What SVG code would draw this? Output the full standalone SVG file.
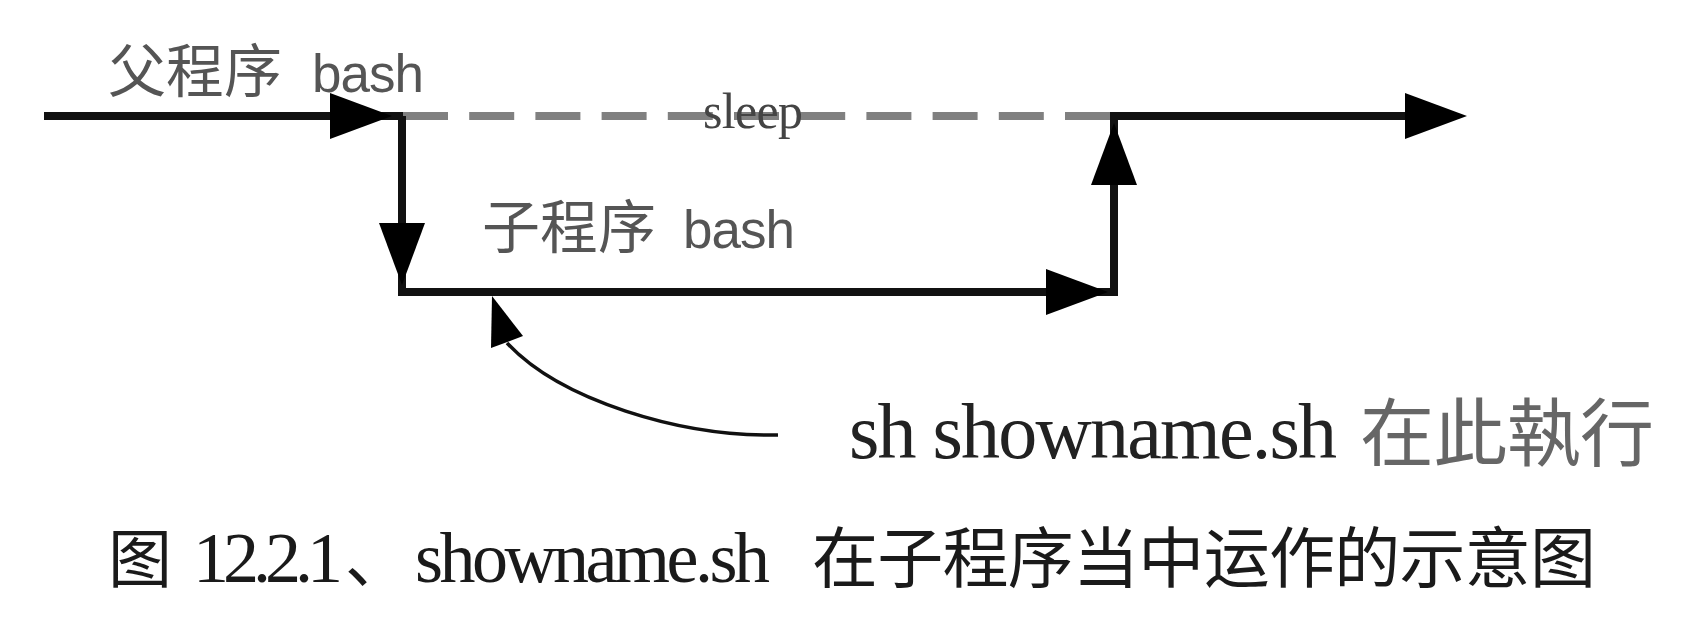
<svg xmlns="http://www.w3.org/2000/svg" xmlns:xlink="http://www.w3.org/1999/xlink" width="1707" height="633" viewBox="0 0 1707 633">
<style>
  .ln { fill: none; stroke: #111; stroke-width: 8; stroke-linecap: butt; }
  .dash { fill: none; stroke: #808080; stroke-width: 8; stroke-dasharray: 45 21.2; }
  .curve { fill: none; stroke: #111; stroke-width: 3.5; }
  .ah { fill: #000; }
  .sans { font-family: "Liberation Sans", "Noto Sans CJK SC", sans-serif; fill: #555; }
  .cjk { font-family: "Noto Sans CJK TC", "Noto Sans CJK SC", sans-serif; }
  .serif { font-family: "Liberation Serif", "Noto Sans CJK SC", serif; }
</style>
<defs>
  <polygon id="ah" class="ah" points="0,0 -62,-23 -62,23"/>
</defs>
<rect width="1707" height="633" fill="#fff"/>

<g id="connectors">
  <path class="dash" d="M403,116 H1110"/>
  <path class="ln" d="M44,116 H403"/>
  <path class="ln" d="M402,116 V292"/>
  <path class="ln" d="M398,292 H1118"/>
  <path class="ln" d="M1114,296 V116"/>
  <path class="ln" d="M1110,116 H1440"/>
  <use xlink:href="#ah" href="#ah" transform="translate(392,116)"/>
  <use xlink:href="#ah" href="#ah" transform="translate(402,285) rotate(90)"/>
  <use xlink:href="#ah" href="#ah" transform="translate(1108,292)"/>
  <use xlink:href="#ah" href="#ah" transform="translate(1114,123) rotate(-90)"/>
  <use xlink:href="#ah" href="#ah" transform="translate(1467,116)"/>
  <path class="curve" d="M778,435 C680,437 560,400 507,343"/>
  <polygon class="ah" points="492,296 491,348 523,336"/>
</g>

<g id="parent-label">
  <text class="sans" y="92"><tspan class="cjk" x="108" font-size="58">父程序</tspan><tspan x="312" font-size="53" textLength="112">bash</tspan></text>
</g>

<g id="sleep-label">
  <text class="serif" x="703" y="128" font-size="50" fill="#444" textLength="100">sleep</text>
</g>

<g id="child-label">
  <text class="sans" y="248"><tspan class="cjk" x="482" font-size="58">子程序</tspan><tspan x="683" font-size="53" textLength="112">bash</tspan></text>
</g>

<g id="exec-label">
  <text class="serif" x="849" y="458" font-size="78" fill="#222" textLength="488">sh showname.sh</text>
  <text class="cjk" x="1360" y="460" font-size="74" fill="#666" textLength="294">在此執行</text>
</g>

<g id="caption">
  <text class="serif" y="582" font-size="72" fill="#1a1a1a"><tspan class="cjk" x="108" font-size="64" font-family="Noto Sans CJK SC, sans-serif">图</tspan><tspan x="193" textLength="150">12.2.1</tspan><tspan x="345" font-family="Noto Sans CJK SC, sans-serif" font-size="64">、</tspan><tspan x="415" textLength="355">showname.sh</tspan><tspan x="812" font-family="Noto Sans CJK SC, sans-serif" font-size="66" textLength="784">在子程序当中运作的示意图</tspan></text>
</g>
</svg>
